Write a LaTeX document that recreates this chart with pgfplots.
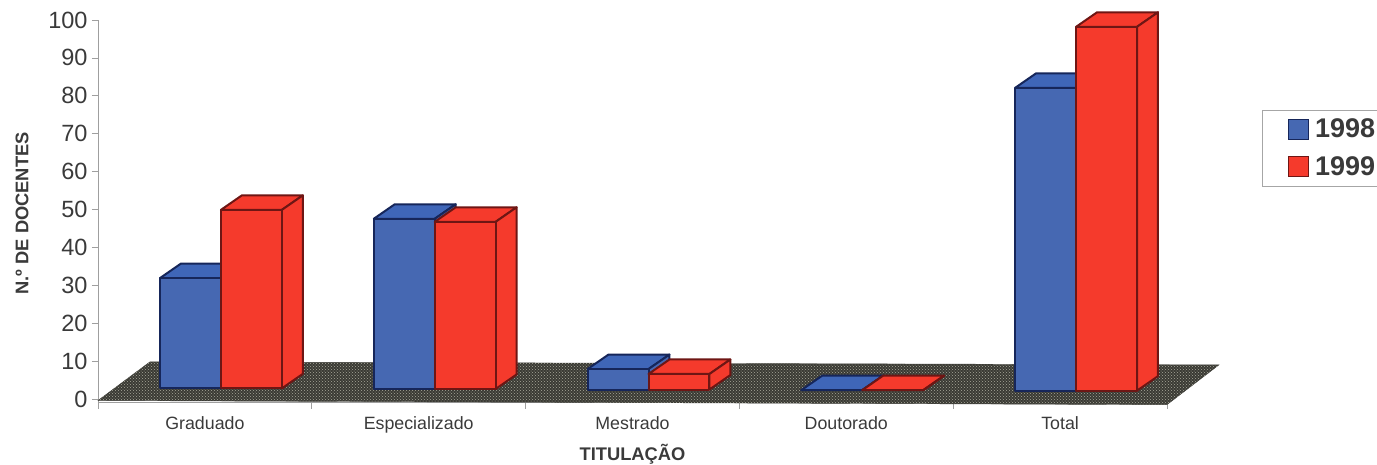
\documentclass[border=0pt]{standalone}
\usepackage{pgfplots}
\pgfplotsset{compat=1.18}
\usepackage{fontspec}
\setmainfont{Liberation Sans}
\usetikzlibrary{patterns}
\definecolor{bluef}{HTML}{4668B2}
\definecolor{bluee}{HTML}{16265A}
\definecolor{bluet}{HTML}{3F66B8}
\definecolor{redf}{HTML}{F53A2C}
\definecolor{rede}{HTML}{6E1614}
\definecolor{txt}{HTML}{3A3A3A}
\definecolor{floorc}{HTML}{3A3A34}
\definecolor{floord}{HTML}{A8A89A}
\newcommand{\barbox}[6]{%
  \pgfmathsetmacro\xa{#1+#2}%
  \pgfmathsetmacro\xb{\xa+0.285}%
  \pgfmathsetmacro\xc{\xb+0.098}%
  \pgfmathsetmacro\xd{\xa+0.098}%
  \pgfmathsetmacro\ya{2.8-0.15*#1}%
  \pgfmathsetmacro\yb{\ya+#3}%
  \pgfmathsetmacro\yc{\yb+3.83}%
  \pgfmathsetmacro\yd{\ya+3.83}%
  \edef\tmp{\noexpand\addplot[forget plot,fill=#6,draw=#5,line width=2pt,line join=round] coordinates {(\xa,\yb)(\xb,\yb)(\xc,\yc)(\xd,\yc)} -- cycle;}\tmp
  \edef\tmp{\noexpand\addplot[forget plot,fill=#4,draw=#5,line width=2pt,line join=round] coordinates {(\xb,\ya)(\xc,\yd)(\xc,\yc)(\xb,\yb)} -- cycle;}\tmp
  \edef\tmp{\noexpand\addplot[forget plot,fill=#4,draw=#5,line width=2pt,line join=round] coordinates {(\xa,\ya)(\xb,\ya)(\xb,\yb)(\xa,\yb)} -- cycle;}\tmp
}
\begin{document}
\begin{tikzpicture}[x=1pt,y=1pt]
\path[use as bounding box] (0,0) rectangle (1377,464);
\begin{axis}[
  at={(98pt,65pt)}, anchor=origin,
  scale only axis, width=1069pt, height=382.8pt,
  xmin=0, xmax=5, ymin=-1, ymax=100,
  clip=false,
  axis lines=left,
  axis line style={-, draw=gray!75, line width=0.7pt},
  tick style={draw=gray!75, line width=0.7pt},
  major tick length=6pt, minor tick length=6pt,
  tick align=outside,
  ytick={0,10,...,100},
  xtick={0.5,1.5,2.5,3.5,4.5},
  xticklabels={Graduado,Especializado,Mestrado,Doutorado,Total},
  minor xtick={0,1,2,3,4,5},
  x tick style={/pgfplots/major tick length=0pt},
  /pgf/number format/assume math mode=true,
  y tick label style={font=\fontsize{23.5}{25}\selectfont, text=txt, xshift=-1pt},
  x tick label style={font=\fontsize{17.8}{19}\selectfont, text=txt, yshift=-4pt},
  xlabel={TITULAÇÃO},
  ylabel={N.º DE DOCENTES},
  xlabel style={font=\bfseries\fontsize{18.3}{19}\selectfont, text=txt, at={(axis description cs:0.5,0)}, anchor=center, yshift=-51pt},
  ylabel style={font=\bfseries\fontsize{18.3}{19}\selectfont, text=txt, at={(axis description cs:0,0.495)}, anchor=center, rotate=0, yshift=76pt},
  legend image code/.code={\path (-26pt,0pt) (24pt,0pt);\draw[#1] (0pt,-10pt) rectangle (20pt,10pt);},
  legend style={at={(axis cs:5.444,76.3)}, anchor=north west, draw=gray!70, line width=0.6pt,
    font=\bfseries\fontsize{27}{30}\selectfont, text=txt,
    inner xsep=0pt, inner ysep=7pt,
    row sep=13pt,
    /tikz/every even column/.style={column sep=0pt},
    legend cell align=left, text width=70pt},
]
% floor
\addplot[forget plot,fill=floorc,draw=floorc] coordinates {(0,-0.4)(5,-1.5)(5.243,9)(0.243,9.8)} -- cycle;
\addplot[forget plot,draw=none,pattern=crosshatch dots,pattern color=floord] coordinates {(0,-0.4)(5,-1.5)(5.243,9)(0.243,9.8)} -- cycle;
% Graduado
\barbox{0}{0.29}{29.1}{bluef}{bluee}{bluet}
\barbox{0}{0.575}{47.1}{redf}{rede}{redf}
% Especializado
\barbox{1}{0.29}{44.9}{bluef}{bluee}{bluet}
\barbox{1}{0.575}{44.1}{redf}{rede}{redf}
% Mestrado
\barbox{2}{0.29}{5.4}{bluef}{bluee}{bluet}
\barbox{2}{0.575}{4.1}{redf}{rede}{redf}
% Doutorado
\barbox{3}{0.29}{0}{bluef}{bluee}{bluet}
\barbox{3}{0.575}{0}{redf}{rede}{redf}
% Total
\barbox{4}{0.29}{79.9}{bluef}{bluee}{bluet}
\barbox{4}{0.575}{96}{redf}{rede}{redf}
\addlegendimage{fill=bluef,draw=bluee,line width=1pt}
\addlegendentry{1998}
\addlegendimage{fill=redf,draw=rede,line width=1pt}
\addlegendentry{1999}
\end{axis}
\end{tikzpicture}
\end{document}
